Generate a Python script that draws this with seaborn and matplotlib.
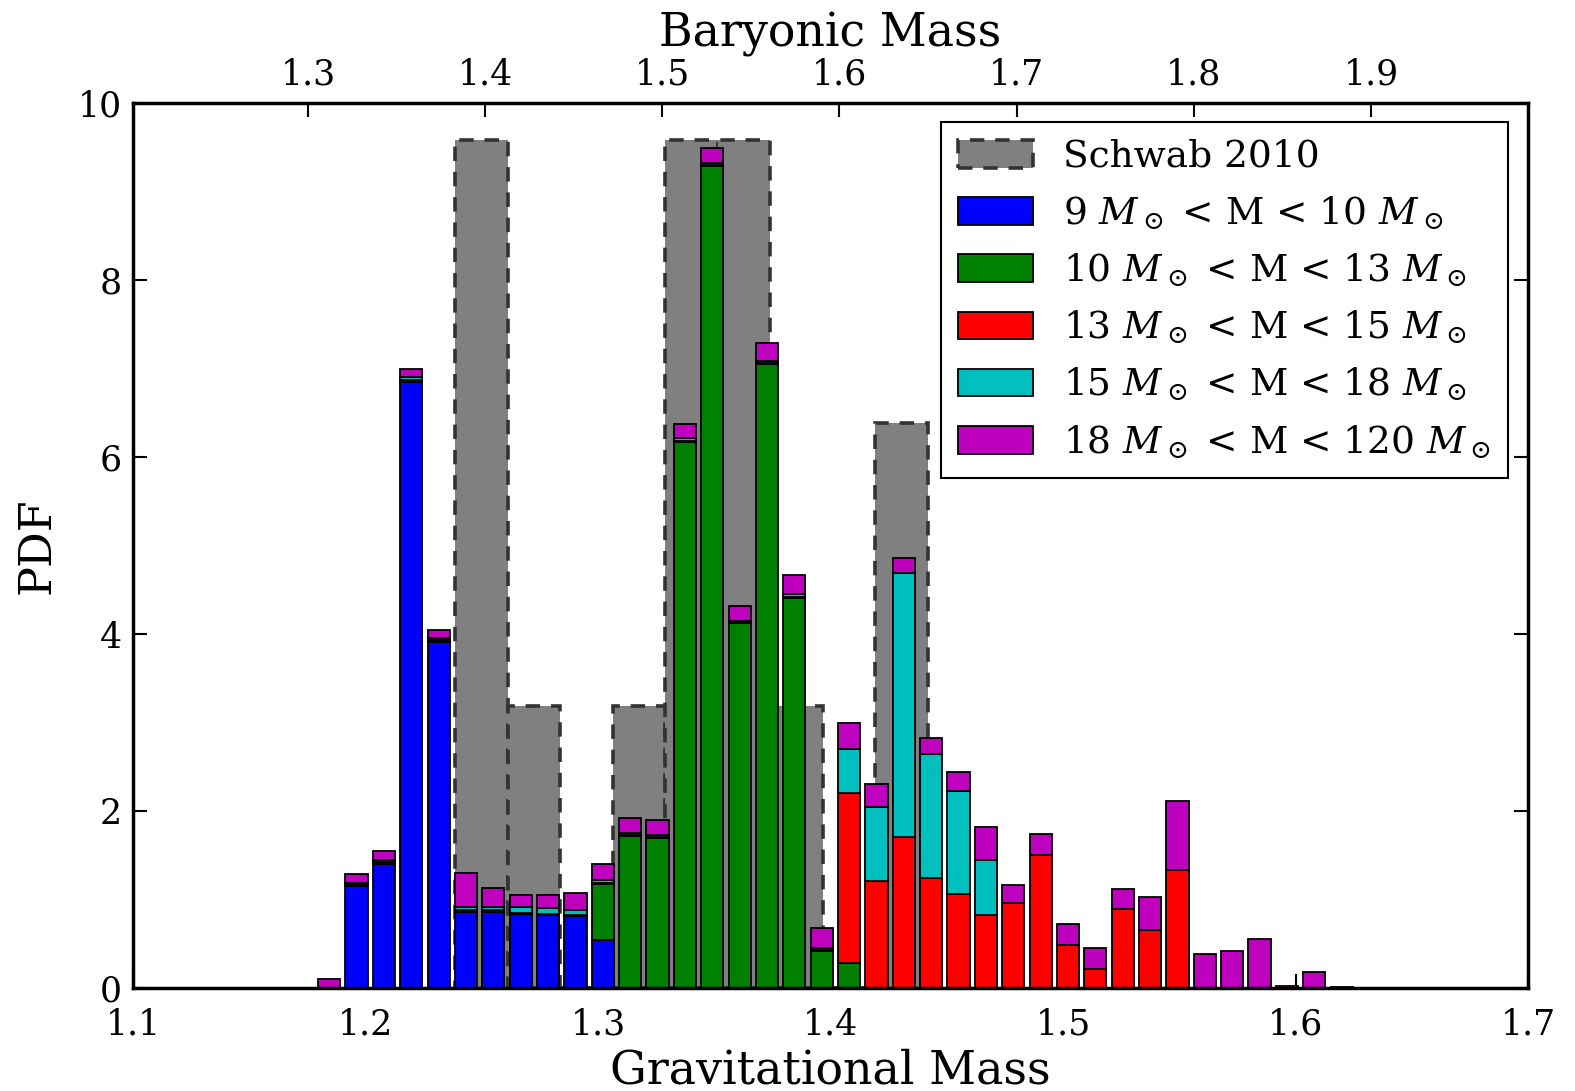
import numpy as np
import matplotlib
matplotlib.use("Agg")
import matplotlib.pyplot as plt
import seaborn as sns
from matplotlib.patches import Patch

# ---------------- data ----------------
# stacked histogram (gravitational mass bins)
bin_start = 1.1796
bin_width = 0.01177
blue = [0, 1.15, 1.40, 6.85, 3.91, 0.86, 0.86, 0.84, 0.83, 0.81,
        0.54, 0, 0, 0, 0, 0, 0, 0, 0, 0,
        0, 0, 0, 0, 0, 0, 0, 0, 0, 0,
        0, 0, 0, 0, 0, 0, 0, 0, 0, 0]
green = [0, 0, 0, 0, 0, 0, 0, 0, 0, 0,
         0.64, 1.72, 1.70, 6.17, 9.29, 4.12, 7.05, 4.41, 0.42, 0.28,
         0, 0, 0, 0, 0, 0, 0, 0, 0, 0,
         0, 0, 0, 0, 0, 0, 0, 0, 0, 0]
red = [0, 0.02, 0.02, 0.02, 0.02, 0.02, 0.02, 0.01, 0.01, 0.02,
       0.01, 0.01, 0.01, 0.01, 0.01, 0.01, 0.01, 0.01, 0.01, 1.92,
       1.21, 1.71, 1.24, 1.06, 0.82, 0.96, 1.50, 0.49, 0.21, 0.89,
       0.65, 1.33, 0, 0, 0, 0, 0, 0, 0, 0]
cyan = [0, 0.02, 0.03, 0.03, 0.03, 0.04, 0.04, 0.06, 0.06, 0.05,
        0.03, 0.02, 0.02, 0.03, 0.02, 0.02, 0.03, 0.03, 0.02, 0.50,
        0.83, 2.98, 1.40, 1.17, 0.63, 0, 0, 0, 0, 0,
        0, 0, 0, 0, 0, 0, 0, 0, 0, 0]
magenta = [0.10, 0.10, 0.10, 0.09, 0.09, 0.38, 0.21, 0.14, 0.15, 0.19,
           0.18, 0.17, 0.17, 0.16, 0.17, 0.17, 0.20, 0.22, 0.23, 0.30,
           0.27, 0.17, 0.19, 0.21, 0.37, 0.20, 0.24, 0.23, 0.24, 0.23,
           0.38, 0.78, 0.385, 0.415, 0.55, 0.02, 0.18, 0.01, 0.004, 0.004]

# Schwab 2010 histogram
schwab_start = 1.2385
schwab_width = 0.0226
schwab = [9.58, 3.19, 0, 3.19, 9.58, 9.58, 3.19, 0, 6.38]

labels = ["Schwab 2010",
          r"9 $M_\odot$ < M < 10 $M_\odot$",
          r"10 $M_\odot$ < M < 13 $M_\odot$",
          r"13 $M_\odot$ < M < 15 $M_\odot$",
          r"15 $M_\odot$ < M < 18 $M_\odot$",
          r"18 $M_\odot$ < M < 120 $M_\odot$"]
xticks = [1.1, 1.2, 1.3, 1.4, 1.5, 1.6, 1.7]
yticks = [0, 2, 4, 6, 8, 10]
top_ticks = [1.3, 1.4, 1.5, 1.6, 1.7, 1.8, 1.9]

# ---------------- style ----------------
sns.set_theme(style="white")
plt.rcParams["font.family"] = ["DejaVu Serif", "DejaVu Sans"]
plt.rcParams["mathtext.fontset"] = "dejavuserif"
plt.rcParams["text.color"] = "black"
plt.rcParams["axes.labelcolor"] = "black"
plt.rcParams["xtick.color"] = "black"
plt.rcParams["ytick.color"] = "black"

colors = ["#0000ff", "#008000", "#ff0000", "#00bfbf", "#bf00bf"]
series = [blue, green, red, cyan, magenta]

fig = plt.figure(figsize=(15.75, 10.91), dpi=100)
ax = fig.add_axes([133 / 1575, 1 - 988 / 1091, (1528 - 133) / 1575, (988 - 103) / 1091])

# Schwab bars
s_left = schwab_start + schwab_width * np.arange(len(schwab))
ax.bar(s_left, schwab, width=schwab_width, align="edge", color="#808080",
       edgecolor="#333333", linestyle=(0, (4, 3)), linewidth=2.6, zorder=1)

# stacked bars
n = len(blue)
lefts = bin_start + bin_width * np.arange(n)
bottom = np.zeros(n)
for vals, col in zip(series, colors):
    vals = np.asarray(vals, dtype=float)
    ax.bar(lefts, vals, width=bin_width * 0.81, align="edge", bottom=bottom,
           color=col, edgecolor="black", linewidth=1.3, zorder=2)
    bottom = bottom + vals

ax.set_xlim(1.1, 1.7)
ax.set_ylim(0, 10)
ax.set_xticks(xticks)
ax.set_xticklabels([f"{t:.1f}" for t in xticks])
ax.set_yticks(yticks)
ax.tick_params(axis="both", direction="in", length=10, width=1.5,
               labelsize=25, top=False, right=True, bottom=True, left=True, pad=8)
ax.tick_params(axis="x", pad=14)
for sp in ax.spines.values():
    sp.set_linewidth(2.5)
    sp.set_color("black")
ax.set_xlabel("Gravitational Mass", fontsize=33, labelpad=5)
ax.set_ylabel("PDF", fontsize=32, labelpad=14)

# top (baryonic) axis
g0, slope = 1.17527, 0.762
def g2b(g):
    return 1.3 + (np.asarray(g) - g0) / slope
def b2g(b):
    return g0 + (np.asarray(b) - 1.3) * slope
sec = ax.secondary_xaxis("top", functions=(g2b, b2g))
sec.set_xticks(top_ticks)
sec.set_xticklabels([f"{t:.1f}" for t in top_ticks])
sec.tick_params(direction="in", length=10, width=1.5, labelsize=25, pad=8)
sec.set_xlabel("Baryonic Mass", fontsize=33, labelpad=8)

# legend
handles = [Patch(facecolor="#808080", edgecolor="#333333", linestyle=(0, (4, 3)), linewidth=2.6)]
handles += [Patch(facecolor=c, edgecolor="black", linewidth=1.3) for c in colors]
leg = ax.legend(handles, labels, loc="upper right", fontsize=27, frameon=True,
                fancybox=False, framealpha=1, edgecolor="black",
                handlelength=2.0, handleheight=0.75, labelspacing=0.52,
                borderpad=0.45, handletextpad=0.8, borderaxespad=0,
                bbox_to_anchor=(1 - 20 / 1395, 1 - 19 / 885))
leg.get_frame().set_linewidth(1.5)

fig.savefig("out.png", dpi=100)
